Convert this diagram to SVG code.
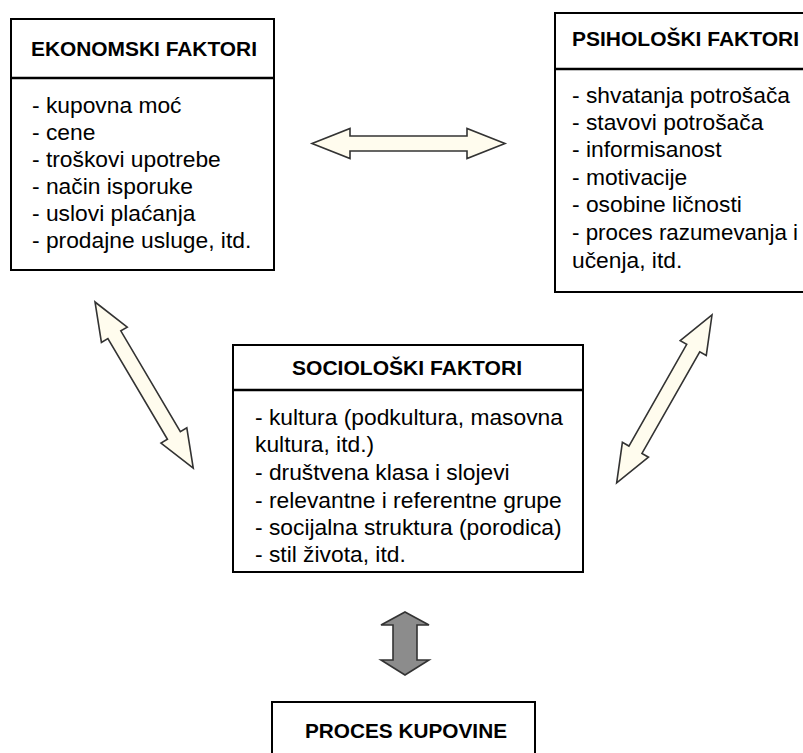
<svg xmlns="http://www.w3.org/2000/svg" width="803" height="753" viewBox="0 0 803 753">
<style>
.box{fill:#fff;stroke:#000;stroke-width:2}
.sep{stroke:#000;stroke-width:2.5}
.t{font-family:"Liberation Sans",Arial,sans-serif;font-weight:bold;font-size:20.5px;fill:#000}
.b{font-family:"Liberation Sans",Arial,sans-serif;font-size:22.8px;fill:#000}
.arr{fill:#FFFCEE;stroke:#333;stroke-width:1.6;stroke-linejoin:miter}
.garr{fill:#8C8C8C;stroke:#333;stroke-width:1.6}
</style>
<defs>
<polygon id="dbl" points="0,0 38,-15 38,-7.5 155,-7.5 155,-15 193,0 155,15 155,7.5 38,7.5 38,15"/>
</defs>
<rect width="803" height="753" fill="#fff"/>
<g id="ekonomski">
<rect class="box" x="11" y="19" width="263" height="251"/>
<line class="sep" x1="11" y1="78" x2="274" y2="78"/>
<text class="t" x="31" y="56" textLength="226" lengthAdjust="spacingAndGlyphs">EKONOMSKI FAKTORI</text>
<text class="b" x="32" y="113">- kupovna moć</text>
<text class="b" x="32" y="140">- cene</text>
<text class="b" x="32" y="167">- troškovi upotrebe</text>
<text class="b" x="32" y="194">- način isporuke</text>
<text class="b" x="32" y="221">- uslovi plaćanja</text>
<text class="b" x="32" y="248">- prodajne usluge, itd.</text>
</g>
<g id="psiholoski">
<rect class="box" x="555" y="13" width="260" height="279"/>
<line class="sep" x1="555" y1="69" x2="803" y2="69"/>
<text class="t" x="572" y="46" textLength="227" lengthAdjust="spacingAndGlyphs">PSIHOLOŠKI FAKTORI</text>
<text class="b" x="572" y="103">- shvatanja potrošača</text>
<text class="b" x="572" y="130">- stavovi potrošača</text>
<text class="b" x="572" y="157">- informisanost</text>
<text class="b" x="572" y="185">- motivacije</text>
<text class="b" x="572" y="212">- osobine ličnosti</text>
<text class="b" x="572" y="240" textLength="226" lengthAdjust="spacingAndGlyphs">- proces razumevanja i</text>
<text class="b" x="572" y="268">učenja, itd.</text>
</g>
<g id="socioloski">
<rect class="box" x="233" y="345" width="350" height="227"/>
<line class="sep" x1="233" y1="390" x2="583" y2="390"/>
<text class="t" x="292" y="375" textLength="230" lengthAdjust="spacingAndGlyphs">SOCIOLOŠKI FAKTORI</text>
<text class="b" x="255" y="425">- kultura (podkultura, masovna</text>
<text class="b" x="255" y="452">kultura, itd.)</text>
<text class="b" x="255" y="480">- društvena klasa i slojevi</text>
<text class="b" x="255" y="508">- relevantne i referentne grupe</text>
<text class="b" x="255" y="535">- socijalna struktura (porodica)</text>
<text class="b" x="255" y="562">- stil života, itd.</text>
</g>
<g id="proces">
<rect class="box" x="272" y="702" width="263" height="70"/>
<text class="t" x="305" y="738" textLength="202" lengthAdjust="spacingAndGlyphs">PROCES KUPOVINE</text>
</g>
<g id="connectors">
<use href="#dbl" class="arr" transform="translate(312,143.5)"/>
<use href="#dbl" class="arr" transform="translate(95,302) rotate(59.4)"/>
<use href="#dbl" class="arr" transform="translate(712,315) rotate(119.6)"/>
<polygon class="garr" points="405,612 429,625 417,625 417,660 429,660 405,675 381,660 393,660 393,625 381,625"/>
</g>
</svg>
